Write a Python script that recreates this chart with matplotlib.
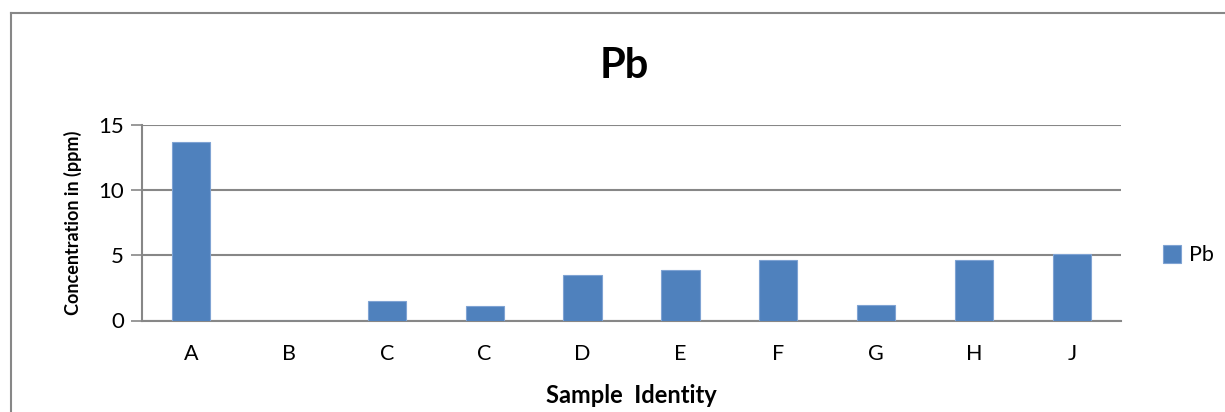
import numpy as np
import matplotlib
matplotlib.use('Agg')
import matplotlib.pyplot as plt
from matplotlib.lines import Line2D

plt.rcParams['font.family'] = ['Lato', 'DejaVu Sans']

# sample data
samples = ['A', 'B', 'C', 'C', 'D', 'E', 'F', 'G', 'H', 'J']
pb_ppm = [13.7, 0.0, 1.52, 1.15, 3.5, 3.9, 4.67, 1.18, 4.64, 5.12]
y_ticks = [0, 5, 10, 15]

bar_col = '#4F81BD'
grid_col = '#878787'

fig = plt.figure(figsize=(12.25, 4.12), dpi=100)
ax = fig.add_axes([142 / 1225, 1 - 320.5 / 412, (1121 - 142) / 1225, (320.5 - 125) / 412])

x = np.arange(len(samples))
bars = ax.bar(x, pb_ppm, width=0.39, color=bar_col, edgecolor='#7FA3D3',
              linewidth=0.8, label='Pb', zorder=3)

ax.set_xlim(-0.5, len(samples) - 0.5)
ax.set_ylim(0, 15)
ax.set_yticks(y_ticks)
ax.set_xticks(x)
ax.set_xticklabels(samples)
ax.yaxis.grid(True, color=grid_col, linewidth=1.5, zorder=0)
ax.tick_params(axis='y', length=8, width=1.2, color=grid_col, labelsize=16, pad=5)
ax.tick_params(axis='x', length=0, labelsize=15.5, pad=17)

for s in ['top', 'right']:
    ax.spines[s].set_visible(False)
for s in ['left', 'bottom']:
    ax.spines[s].set_color(grid_col)
    ax.spines[s].set_linewidth(1.5)

ax.set_xlabel('Sample  Identity', fontsize=17, fontweight='bold', labelpad=14)
ax.set_ylabel('Concentration in (ppm)', fontsize=13, fontweight='bold', labelpad=12)

fig.text(624 / 1225, 1 - 66 / 412, 'Pb', fontsize=30, fontweight='bold',
         ha='center', va='center')

ax.legend(loc='center left', bbox_to_anchor=(1.043, 0.333), frameon=False,
          borderpad=0, borderaxespad=0,
          fontsize=15.5, handlelength=0.85, handleheight=0.85, handletextpad=0.35)

# outer chart border (only left and top visible)
fig.add_artist(Line2D([10.5 / 1225, 10.5 / 1225], [0, 1 - 13 / 412],
                      transform=fig.transFigure, color=grid_col, linewidth=1.5))
fig.add_artist(Line2D([10.5 / 1225, 1], [1 - 13 / 412, 1 - 13 / 412],
                      transform=fig.transFigure, color=grid_col, linewidth=1.5))

fig.savefig('out.png', dpi=100)
